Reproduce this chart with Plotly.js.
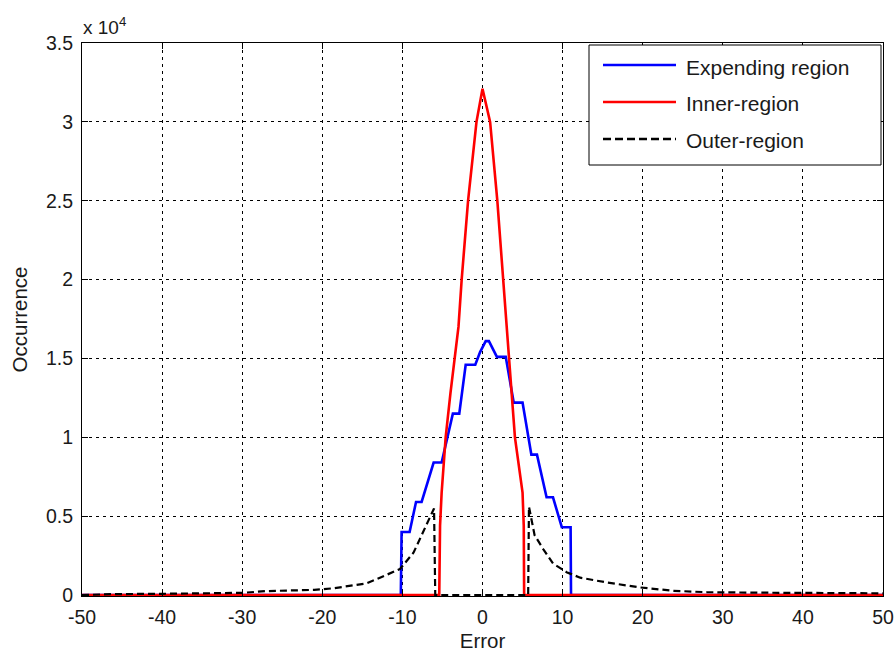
<!DOCTYPE html>
<html>
<head>
<meta charset="utf-8">
<script src="https://cdn.plot.ly/plotly-3.0.1.min.js"></script>
<style>html,body{margin:0;padding:0;background:#fff;}#chart{width:896px;height:658px;}</style>
</head>
<body>
<div id="chart"></div>
<script>
// Expending region (blue)
const blueX = [-50, -10.2, -10.1, -9.1, -8.3, -7.6, -6.1, -5.1, -3.7, -2.9, -2.1, -0.9, -0.3, 0.4, 0.8, 1.8, 2.9, 3.9, 5.0, 6.1, 6.8, 8.0, 8.8, 9.9, 11.0, 11.05, 50];
const blueY = [0, 0, 4000, 4000, 5900, 5900, 8400, 8400, 11500, 11500, 14600, 14600, 15400, 16100, 16100, 15100, 15100, 12200, 12200, 8900, 8900, 6200, 6200, 4300, 4300, 0, 0];

// Inner-region (red)
const redX = [-50, -5.4, -5.3, -5.1, -4.6, -4.0, -3.0, -2.6, -1.8, -0.75, 0, 0.95, 1.85, 2.6, 3.0, 4.05, 5.0, 5.15, 5.2, 50];
const redY = [0, 0, 4400, 6500, 10000, 12800, 17000, 20000, 25000, 30000, 32100, 30000, 25000, 20000, 17000, 10000, 6500, 4400, 0, 0];

// Outer-region (black dashed)
const blackX = [-50, -46, -40, -35, -30, -27, -24, -21, -18.6, -16, -14.5, -12.8, -10.3, -8.6, -7.4, -6.3, -6.05, -5.9, 5.7, 5.8, 6.5, 7.6, 8.8, 10.5, 12.2, 15.5, 19.7, 23.8, 28, 35, 40, 46, 50];
const blackY = [0, 60, 80, 100, 140, 250, 290, 330, 430, 600, 740, 1100, 1650, 2700, 3970, 5230, 5490, 0, 0, 5600, 3800, 2900, 2000, 1450, 1100, 800, 480, 270, 180, 150, 130, 120, 110];

const seriesNames = ['Expending region', 'Inner-region', 'Outer-region'];
const xTicks = [-50, -40, -30, -20, -10, 0, 10, 20, 30, 40, 50];
const xTickText = ['-50', '-40', '-30', '-20', '-10', '0', '10', '20', '30', '40', '50'];
const yTickVals = [0, 5000, 10000, 15000, 20000, 25000, 30000, 35000];
const yTickText = ['0', '0.5', '1', '1.5', '2', '2.5', '3', '3.5'];

const FONT = 'Liberation Sans, Arial, Helvetica, sans-serif';
const TXT = '#1a1a1a';
const colors = ['#0000ff', '#ff0000', '#000000'];
const widths = [2.6, 2.6, 2.2];
const dashes = ['solid', 'solid', '7px,4px'];

// plot area in pixels (from margins)
const W = 896, H = 658, ML = 82, MR = 13, MT = 43, MB = 62;
const PW = W - ML - MR, PH = H - MT - MB;
const px = p => (p - ML) / PW;
const py = p => (H - MB - p) / PH;

const traces = [blueX, redX, blackX].map((xs, i) => ({
  x: xs, y: [blueY, redY, blackY][i], name: seriesNames[i], type: 'scatter', mode: 'lines',
  showlegend: false, line: {color: colors[i], width: widths[i], dash: dashes[i]}
}));

const axisCommon = {
  showline: true, linecolor: '#000', linewidth: 1, mirror: 'ticks',
  ticks: 'inside', ticklen: 6, tickcolor: '#000', tickwidth: 1,
  showgrid: true, gridcolor: '#000', gridwidth: 1, griddash: '3px,4px',
  zeroline: false, tickfont: {family: FONT, size: 19.5, color: TXT}
};

// legend drawn as a boxed key (top-right, inside the axes)
const legRows = [65, 102, 139];
const shapes = [{type: 'rect', xref: 'paper', yref: 'paper', x0: px(589), x1: px(881), y0: py(165), y1: py(45),
                 fillcolor: '#fff', line: {color: '#000', width: 1}, layer: 'above'}];
const annotations = [{xref: 'paper', yref: 'paper', x: 0, y: 1, xanchor: 'left', yanchor: 'bottom',
                 xshift: -1, yshift: 3, showarrow: false, text: 'x 10<sup>4</sup>',
                 font: {family: FONT, size: 19, color: TXT}}];
seriesNames.forEach((n, i) => {
  shapes.push({type: 'line', xref: 'paper', yref: 'paper', x0: px(603), x1: px(676), y0: py(legRows[i]), y1: py(legRows[i]),
               line: {color: colors[i], width: 2.6, dash: i === 2 ? '8px,4px' : 'solid'}, layer: 'above'});
  annotations.push({xref: 'paper', yref: 'paper', x: px(684), y: py(legRows[i] + 2), xanchor: 'left', yanchor: 'middle',
                    showarrow: false, text: n, font: {family: FONT, size: 21, color: TXT}});
});

const layout = {
  width: W, height: H,
  margin: {l: ML, r: MR, t: MT, b: MB},
  paper_bgcolor: '#fff', plot_bgcolor: '#fff',
  font: {family: FONT, color: TXT},
  showlegend: false,
  xaxis: Object.assign({}, axisCommon, {range: [-50, 50], tickvals: xTicks, ticktext: xTickText, ticklabelstandoff: 4,
           title: {text: 'Error', font: {family: FONT, size: 20.5, color: TXT}, standoff: 6}}),
  yaxis: Object.assign({}, axisCommon, {range: [-60, 35000], tickvals: yTickVals, ticktext: yTickText, ticklabelstandoff: 4,
           title: {text: 'Occurrence', font: {family: FONT, size: 20.5, color: TXT}, standoff: 12}}),
  shapes: shapes,
  annotations: annotations
};

Plotly.newPlot('chart', traces, layout, {displayModeBar: false, staticPlot: true});
</script>
</body>
</html>
